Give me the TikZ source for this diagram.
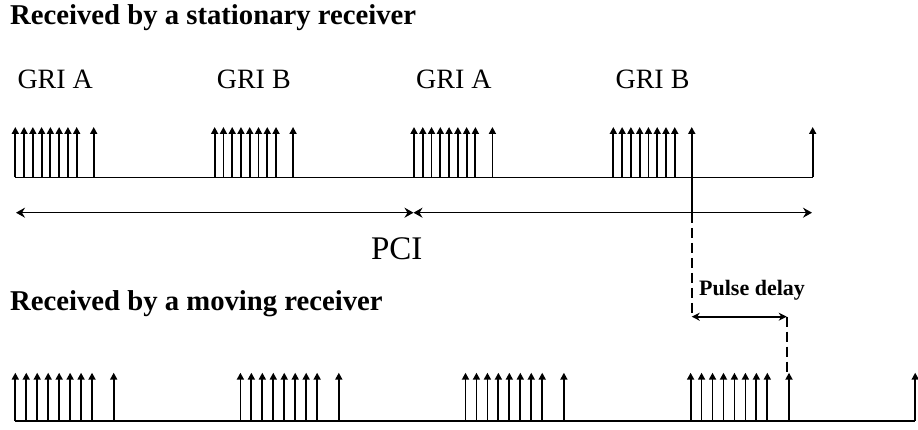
\documentclass[tikz,border=0pt]{standalone}
\usepackage{fontspec}
\setmainfont{Liberation Serif}
\usetikzlibrary{arrows.meta}
\tikzset{
  pulse/.style={line width=1.8pt,-{Triangle[width=7pt,length=7pt]}},
  axisline/.style={line width=1.8pt},
  span/.style={line width=1.6pt,{Stealth[length=9pt,width=10pt,inset=3pt]}-{Stealth[length=9pt,width=10pt,inset=3pt]}},
  delayspan/.style={line width=1.6pt,{Stealth[length=8pt,width=8pt,inset=2.5pt]}-{Stealth[length=8pt,width=8pt,inset=2.5pt]}},
  guide/.style={line width=1.6pt,dash pattern=on 10pt off 5pt},
  title/.style={inner sep=0pt,anchor=base west,font=\fontsize{28.7}{32}\selectfont\bfseries},
  grilabel/.style={inner sep=0pt,anchor=base west,font=\fontsize{28}{32}\selectfont},
}
\begin{document}
\begin{tikzpicture}[x=1pt,y=-1pt]
\useasboundingbox (0,0) rectangle (918,430);
% titles
\node[title] (t1) at (10,25) {Received by a stationary receiver};
\node[title] (t2) at (10,310) {Received by a moving receiver};
% GRI labels
\foreach \k/\lab in {0/GRI A,1/GRI B,2/GRI A,3/GRI B}{
  \pgfmathsetmacro{\s}{15.3+199.35*\k}
  \node[grilabel] (g\k) at (\s+2,89) {\lab};
}
% top row pulses
\foreach \k in {0,1,2,3}{
  \pgfmathsetmacro{\s}{15.3+199.35*\k}
  \foreach \i in {0,...,7}{
    \draw[pulse] (\s+8.77*\i,177.5) -- (\s+8.77*\i,127);
  }
  \draw[pulse] (\s+78.4,177.5) -- (\s+78.4,127);
}
\draw[pulse] (812.7,177.5) -- (812.7,127);
\coordinate (ta) at (15.3,177.5);
\coordinate (tb) at (812.7,177.5);
\draw[axisline] (ta) -- (tb);
% bottom row pulses
\foreach \k in {0,1,2,3}{
  \pgfmathsetmacro{\s}{15.3+225.1*\k}
  \foreach \i in {0,...,7}{
    \draw[pulse] (\s+10.96*\i,421) -- (\s+10.96*\i,372.7);
  }
  \draw[pulse] (\s+98.4,421) -- (\s+98.4,372.7);
}
\draw[pulse] (915.2,421) -- (915.2,372.7);
\coordinate (ba) at (15.3,421);
\coordinate (bb) at (915.2,421);
\draw[axisline] (ba) -- (bb);
% PCI spans
\coordinate (p0) at (16,212.7);
\coordinate (p1) at (413.5,212.7);
\coordinate (p2) at (812,212.7);
\draw[span] (p0) -- (p1);
\draw[span] (p1) -- (p2);
\node[inner sep=0pt,anchor=base,font=\fontsize{33}{36}\selectfont] (pci) at (396.7,260) {PCI};
% pulse delay
\coordinate (d0) at (691.7,177.5);
\coordinate (d1) at (691.7,316.7);
\coordinate (d2) at (786.7,316.7);
\coordinate (d3) at (786.7,372.7);
\draw[line width=1.6pt] (d0) -- (691.7,213);
\draw[guide] (691.7,213) -- (d1);
\draw[delayspan] (d1) -- (d2);
\draw[guide] (d2) -- (d3);
\node[inner sep=0pt,anchor=base west,font=\fontsize{22}{24}\selectfont\bfseries] (pd) at (699,295) {Pulse delay};
\end{tikzpicture}
\end{document}
